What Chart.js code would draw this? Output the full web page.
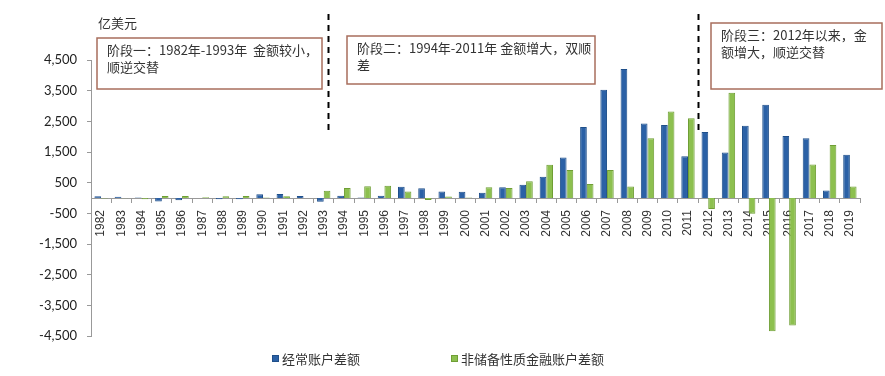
<!DOCTYPE html>
<html>
<head>
<meta charset="utf-8">
<script src="https://cdn.jsdelivr.net/npm/chart.js@4/dist/chart.umd.min.js"></script>
<style>
  html, body { margin: 0; padding: 0; background: #fff; }
  #wrap { width: 885px; height: 376px; position: relative; }
</style>
</head>
<body>
<div id="wrap"><canvas id="bop-chart"></canvas></div>
<script>
// 中国国际收支：经常账户 vs 非储备性质金融账户（亿美元）
var years = ['1982','1983','1984','1985','1986','1987','1988','1989','1990','1991','1992','1993',
  '1994','1995','1996','1997','1998','1999','2000','2001','2002','2003','2004','2005','2006',
  '2007','2008','2009','2010','2011','2012','2013','2014','2015','2016','2017','2018','2019'];

var currentAccount = [57, 42, 20, -114, -70, 3, -38, -43, 120, 133, 64, -119,
  77, 16, 72, 370, 315, 211, 204, 174, 354, 431, 689, 1324, 2318,
  3532, 4206, 2433, 2378, 1361, 2154, 1482, 2360, 3042, 2022, 1951, 241, 1413];

var financialAccount = [-17, -12, -38, 68, 67, 27, 53, 64, 13, 60, -2, 235,
  326, 387, 400, 210, -63, 52, 20, 348, 323, 549, 1082, 912, 453,
  911, 371, 1945, 2822, 2600, -360, 3430, -514, -4345, -4161, 1095, 1727, 378];

var seriesNames = ['经常账户差额', '非储备性质金融账户差额'];

var phaseNotes = [
  { lines: ['阶段一：1982年-1993年  金额较小，', '顺逆交替'], box: [97, 38, 225, 51] },
  { lines: ['阶段二：1994年-2011年 金额增大，双顺', '差'], box: [347, 36, 248, 48] },
  { lines: ['阶段三：2012年以来，金', '额增大，顺逆交替'], box: [711, 23, 171, 66] }
];
var phaseBreaks = [11.2, 29.5];

var cjkFont = '"Noto Sans CJK SC", "Noto Sans", sans-serif';

// draws the unit label, dashed phase separators, note boxes and the legend
var decorPlugin = {
  id: 'decor',
  afterDraw: function (chart) {
    var ctx = chart.ctx;
    var x = chart.scales.x;
    ctx.save();

    ctx.fillStyle = '#333';
    ctx.font = '13px ' + cjkFont;
    ctx.textBaseline = 'middle';
    ctx.fillText('亿美元', 98, 23);

    // dashed separators
    ctx.strokeStyle = '#000';
    ctx.lineWidth = 2;
    ctx.setLineDash([6, 5]);
    phaseBreaks.forEach(function (b) {
      var px = Math.round(x.getPixelForValue(b)) + 0.5;
      ctx.beginPath();
      ctx.moveTo(px, 14);
      ctx.lineTo(px, 132);
      ctx.stroke();
    });
    ctx.setLineDash([]);

    // note boxes
    phaseNotes.forEach(function (n) {
      var b = n.box;
      ctx.fillStyle = '#fff';
      ctx.fillRect(b[0], b[1], b[2], b[3]);
      ctx.strokeStyle = '#a86e5c';
      ctx.lineWidth = 1.5;
      ctx.strokeRect(b[0], b[1], b[2], b[3]);
      ctx.fillStyle = '#333';
      ctx.font = '13px ' + cjkFont;
      n.lines.forEach(function (t, i) {
        ctx.fillText(t, b[0] + 10, b[1] + 12 + i * 17);
      });
    });

    // legend
    var legendX = [272, 451];
    var colors = ['#2b61a6', '#8dc04f'];
    var borders = ['#1f4f8a', '#6f9e35'];
    seriesNames.forEach(function (name, i) {
      ctx.fillStyle = colors[i];
      ctx.fillRect(legendX[i], 355, 7, 7);
      ctx.strokeStyle = borders[i];
      ctx.lineWidth = 1;
      ctx.strokeRect(legendX[i] + 0.5, 355.5, 6, 6);
      ctx.fillStyle = '#333';
      ctx.font = '13px ' + cjkFont;
      ctx.fillText(name, legendX[i] + 10, 359);
    });

    ctx.restore();
  }
};

var ctx = document.getElementById('bop-chart').getContext('2d');
var bopChart = new Chart(ctx, {
  type: 'bar',
  data: {
    labels: years,
    datasets: [{
      label: seriesNames[0],
      data: currentAccount,
      backgroundColor: '#2b61a6',
      borderColor: '#1f4f8a',
      borderWidth: 1,
      categoryPercentage: 0.66,
      barPercentage: 1.0
    }, {
      label: seriesNames[1],
      data: financialAccount,
      backgroundColor: '#8dc04f',
      borderColor: '#6f9e35',
      borderWidth: 1,
      categoryPercentage: 0.66,
      barPercentage: 1.0
    }]
  },
  options: {
    responsive: true,
    maintainAspectRatio: false,
    animation: false,
    layout: { padding: { left: 0, top: 60, right: 25, bottom: 40 } },
    plugins: {
      legend: { display: false },
      tooltip: { enabled: false }
    },
    scales: {
      x: {
        position: { y: 0 },
        grid: { display: true, drawOnChartArea: false, drawTicks: true, tickLength: 4, color: '#999' },
        border: { display: true, color: '#999', width: 1 },
        ticks: {
          minRotation: 90, maxRotation: 90, autoSkip: false, padding: 8,
          color: '#333', font: { family: '"Liberation Sans", Arial, sans-serif', size: 12 }
        }
      },
      y: {
        min: -4500,
        max: 4500,
        afterFit: function (scale) { scale.width = 91; },
        grid: { display: true, drawOnChartArea: false, drawTicks: true, tickLength: 4, color: '#999' },
        border: { display: true, color: '#999', width: 1 },
        ticks: {
          stepSize: 1000,
          padding: 10,
          color: '#222',
          font: { family: 'Lato, sans-serif', size: 13 },
          callback: function (v) { return v.toLocaleString('en-US'); }
        }
      }
    }
  },
  plugins: [decorPlugin]
});
</script>
</body>
</html>
